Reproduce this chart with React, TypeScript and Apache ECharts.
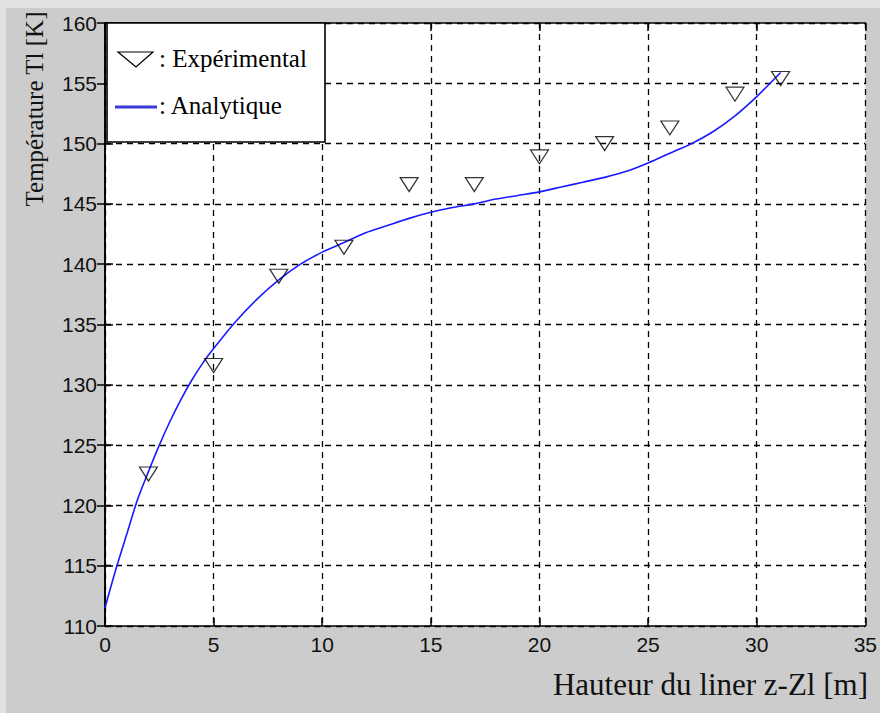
import React, { useEffect, useRef } from "react";
import * as echarts from "echarts";

// Experimental points (triangles)
const expX = [2, 5, 8, 11, 14, 17, 20, 23, 26, 29, 31.1];
const expY = [122.6, 131.6, 139.0, 141.4, 146.6, 146.6, 148.9, 150.0, 151.3, 154.1, 155.4];

// Analytical curve
const curveX = [0, 0.5, 1, 1.5, 2, 2.5, 3, 3.5, 4, 4.5, 5, 6, 7, 8, 9, 10, 11, 12, 13, 14, 15, 16, 17, 18, 19, 20, 21, 22, 23, 24, 25, 26, 27, 28, 29, 30, 31.1];
const curveY = [111.5, 114.7, 117.6, 120.5, 122.8, 125.0, 127.0, 128.8, 130.4, 131.8, 133.0, 135.2, 137.1, 138.7, 140.0, 141.0, 141.8, 142.6, 143.2, 143.8, 144.3, 144.7, 145.0, 145.4, 145.7, 146.0, 146.4, 146.8, 147.2, 147.7, 148.4, 149.2, 150.0, 151.0, 152.3, 153.9, 155.9];

const xTicks = { min: 0, max: 35, interval: 5 };
const yTicks = { min: 110, max: 160, interval: 5 };

const xTitle = "Hauteur du liner z-Zl [m]";
const yTitle = "Température Tl [K]";
const legendExp = ": Expérimental";
const legendAna = ": Analytique";

export default function App() {
  const ref = useRef<HTMLDivElement>(null);
  useEffect(() => {
    if (!ref.current) return;
    const chart = echarts.init(ref.current, undefined, { renderer: "svg" });
    const grid = { left: 105, top: 23, right: 9, bottom: 87 };
    const splitLine = { show: true, lineStyle: { color: "#000", type: [6, 5] as any, width: 1.3 } };
    const axisLine = { show: true, lineStyle: { color: "#000", width: 1.6 } };
    const labelStyle = { color: "#111", fontSize: 21, fontFamily: "Liberation Sans" };
    const tick = { show: true, inside: true, length: 8, lineStyle: { color: "#000", width: 1.5 } };
    chart.setOption({
      animation: false,
      backgroundColor: "#cccccc",
      grid: { ...grid, show: true, backgroundColor: "#ffffff", borderWidth: 0 },
      xAxis: [
        {
          type: "value", ...xTicks, position: "bottom",
          axisLine, splitLine, axisTick: tick,
          axisLabel: { ...labelStyle, margin: 8 },
        },
        {
          type: "value", ...xTicks, position: "top",
          axisLine, splitLine: { show: false }, axisTick: tick,
          axisLabel: { show: false },
        },
      ],
      yAxis: [
        {
          type: "value", ...yTicks, position: "left",
          axisLine, splitLine, axisTick: tick,
          axisLabel: { ...labelStyle, margin: 8 },
        },
        {
          type: "value", ...yTicks, position: "right",
          axisLine, splitLine: { show: false }, axisTick: tick,
          axisLabel: { show: false },
        },
      ],
      series: [
        {
          name: "Analytique",
          type: "line",
          data: curveX.map((x, i) => [x, curveY[i]]),
          smooth: 0.25,
          showSymbol: false,
          lineStyle: { color: "#1a1aff", width: 1.6 },
          z: 3,
        },
        {
          name: "Expérimental",
          type: "scatter",
          data: expX.map((x, i) => [x, expY[i]]),
          symbol: "path://M0,0 L20,0 L10,15 Z",
          symbolSize: [18, 14],
          itemStyle: { color: "rgba(0,0,0,0)", borderColor: "#000", borderWidth: 1.2 },
          z: 4,
        },
      ],
      graphic: [
        { type: "rect", shape: { x: 0, y: 0, width: 880, height: 8 }, style: { fill: "#e2e2e2" }, z: 0 },
        { type: "rect", shape: { x: 0, y: 0, width: 6, height: 713 }, style: { fill: "#e2e2e2" }, z: 0 },
        {
          type: "text", x: 34, y: 109, rotation: Math.PI / 2,
          style: { text: yTitle, font: '25px "Liberation Serif"', fill: "#111", align: "center", verticalAlign: "middle" },
          z: 10,
        },
        {
          type: "text", x: 868, y: 684,
          style: { text: xTitle, font: '31px "Liberation Serif"', fill: "#111", align: "right", verticalAlign: "middle" },
          z: 10,
        },
        {
          type: "rect", shape: { x: 107, y: 23, width: 218, height: 119 },
          style: { fill: "#ffffff", stroke: "#000", lineWidth: 1.6 }, z: 100,
        },
        {
          type: "polygon", shape: { points: [[118, 52], [153, 52], [136, 67]] },
          style: { fill: "none", stroke: "#000", lineWidth: 1.2 }, z: 101,
        },
        {
          type: "text", x: 159, y: 58,
          style: { text: legendExp, font: '25px "Liberation Serif"', fill: "#000", align: "left", verticalAlign: "middle" },
          z: 101,
        },
        {
          type: "line", shape: { x1: 115, y1: 107, x2: 157, y2: 107 },
          style: { stroke: "#3a3ad6", lineWidth: 3 }, z: 101,
        },
        {
          type: "text", x: 159, y: 105,
          style: { text: legendAna, font: '25px "Liberation Serif"', fill: "#000", align: "left", verticalAlign: "middle" },
          z: 101,
        },
      ],
    });
    return () => chart.dispose();
  }, []);
  return <div ref={ref} style={{ position: "fixed", left: 0, top: 0, width: 880, height: 713 }} />;
}
